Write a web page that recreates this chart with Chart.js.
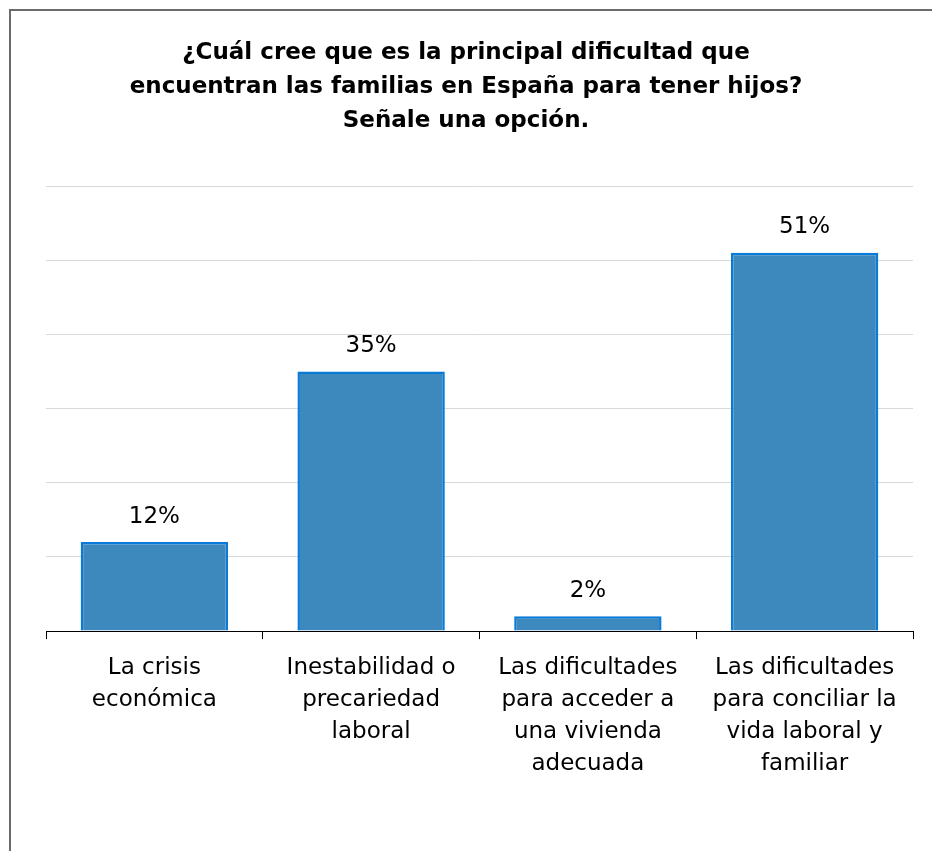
<!DOCTYPE html>
<html>
<head>
<meta charset="utf-8">
<script src="https://cdn.jsdelivr.net/npm/chart.js@4"></script>
<style>
  body { margin: 0; background: #fff; }
  .wrap { position: relative; width: 932px; height: 851px; overflow: hidden; }
  .frame { position: absolute; left: 9px; top: 9px; width: 960px; height: 900px;
           border-left: 2px solid #6b6b6b; border-top: 2px solid #6b6b6b; }
  canvas { position: absolute; left: 0; top: 0; }
</style>
</head>
<body>
<div class="wrap">
  <div class="frame"></div>
  <canvas class="myChart" width="932" height="851"></canvas>
</div>
<script>
var myChart = document.querySelector(".myChart");
var fontFam = 'Tahoma, "DejaVu Sans", sans-serif';

// categories (already split into lines as in the picture)
let labels = [
  ['La crisis', 'económica'],
  ['Inestabilidad o', 'precariedad', 'laboral'],
  ['Las dificultades', 'para acceder a', 'una vivienda', 'adecuada'],
  ['Las dificultades', 'para conciliar la', 'vida laboral y', 'familiar']
];
let itemsdata = [12, 35, 2, 51];
let titleLines = [
  '¿Cuál cree que es la principal dificultad que',
  'encuentran las familias en España para tener hijos?',
  'Señale una opción.'
];

// labels above the bars
const barLabels = {
  id: 'barLabels',
  afterDatasetsDraw(chart) {
    const ctx = chart.ctx;
    const meta = chart.getDatasetMeta(0);
    ctx.save();
    ctx.font = '23px ' + fontFam;
    ctx.fillStyle = '#000';
    ctx.textAlign = 'center';
    ctx.textBaseline = 'bottom';
    meta.data.forEach(function (bar, i) {
      ctx.fillText(itemsdata[i] + '%', bar.x, bar.y - 14);
    });
    ctx.restore();
  }
};

const data = {
  labels: labels,
  datasets: [{
    data: itemsdata,
    backgroundColor: '#3d89be',
    borderColor: '#0a7ad8',
    borderWidth: 2.5,
    barPercentage: 0.68,
    categoryPercentage: 1
  }]
};

const config = {
  type: 'bar',
  data: data,
  options: {
    responsive: false,
    animation: false,
    layout: { padding: { left: 19, right: 19, top: 36, bottom: 58 } },
    plugins: {
      legend: { display: false },
      tooltip: { enabled: false },
      title: {
        display: true,
        text: titleLines,
        color: '#000',
        font: { family: fontFam, size: 23, weight: 'bold', lineHeight: 1.48 },
        padding: { top: 0, bottom: 48 }
      }
    },
    scales: {
      x: {
        grid: {
          display: true,
          drawOnChartArea: false,
          drawTicks: true,
          tickLength: 8,
          color: '#000',
          offset: true
        },
        border: { display: true, color: '#000', width: 1 },
        ticks: {
          color: '#000',
          font: { family: fontFam, size: 23, lineHeight: 1.39 },
          padding: 13,
          maxRotation: 0,
          autoSkip: false
        }
      },
      y: {
        min: 0,
        max: 60,
        ticks: { display: false, stepSize: 10 },
        border: { display: false },
        grid: { color: '#d9d9d9', lineWidth: 1, drawTicks: false },
        afterFit: function (scale) { scale.width = 27; }
      }
    }
  },
  plugins: [barLabels]
};

const chart1 = new Chart(myChart.getContext('2d'), config);
</script>
</body>
</html>
